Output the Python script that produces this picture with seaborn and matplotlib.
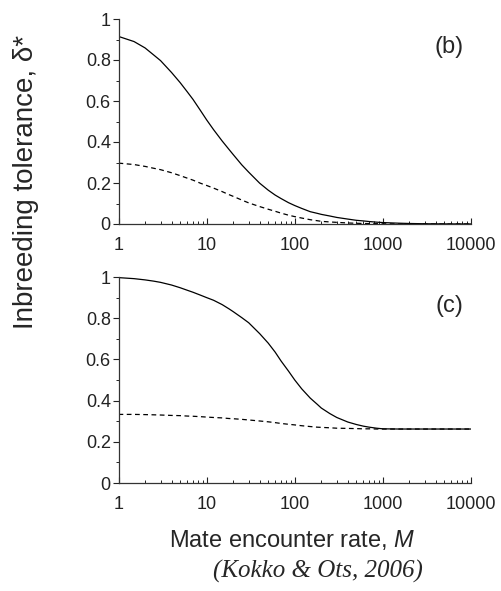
import numpy as np
import pandas as pd
import matplotlib
matplotlib.use("Agg")
import matplotlib.pyplot as plt
from matplotlib.ticker import FixedLocator, NullFormatter, LogLocator
import seaborn as sns

#%% DATA
M = [1, 1.5, 2, 2.5, 3, 4, 5, 6, 7, 8.5, 10, 12, 15, 18, 20, 25, 30, 40, 50,
     60, 70, 85, 100, 120, 150, 180, 200, 250, 300, 400, 500, 600, 700, 850,
     1000, 1500, 2000, 3000, 5000, 10000]

# panel (b)
b_solid = [0.915, 0.89, 0.859, 0.825, 0.797, 0.739, 0.69, 0.646, 0.608, 0.554,
           0.508, 0.46, 0.405, 0.363, 0.339, 0.289, 0.253, 0.199, 0.165,
           0.141, 0.124, 0.104, 0.09, 0.076, 0.06, 0.052, 0.047, 0.039, 0.032,
           0.024, 0.018, 0.015, 0.012, 0.009, 0.007, 0.004, 0.0025, 0.0012,
           0.0005, 0.0002]
b_dashed = [0.297, 0.29, 0.281, 0.272, 0.265, 0.25, 0.236, 0.224, 0.214, 0.199,
            0.188, 0.175, 0.158, 0.143, 0.135, 0.117, 0.103, 0.085, 0.072,
            0.062, 0.053, 0.043, 0.036, 0.029, 0.021, 0.016, 0.013, 0.01,
            0.008, 0.005, 0.0035, 0.0025, 0.002, 0.0015, 0.001, 0.0005,
            0.0003, 0.0001, 0.0, 0.0]

# panel (c)
c_solid = [0.997, 0.992, 0.986, 0.98, 0.974, 0.961, 0.948, 0.936, 0.926, 0.912,
           0.90, 0.887, 0.866, 0.845, 0.832, 0.803, 0.778, 0.725, 0.679,
           0.635, 0.592, 0.543, 0.50, 0.457, 0.412, 0.382, 0.364, 0.337, 0.318,
           0.296, 0.284, 0.276, 0.271, 0.266, 0.263, 0.262, 0.262, 0.262,
           0.262, 0.262]
c_dashed = [0.333, 0.333, 0.332, 0.331, 0.330, 0.328, 0.327, 0.325, 0.324,
            0.322, 0.32, 0.318, 0.316, 0.313, 0.312, 0.309, 0.306, 0.301,
            0.297, 0.293, 0.289, 0.285, 0.282, 0.278, 0.274, 0.271, 0.27,
            0.268, 0.266, 0.265, 0.264, 0.263, 0.263, 0.262, 0.262, 0.262,
            0.262, 0.262, 0.262, 0.262]

panel_labels = ["(b)", "(c)"]
xtick_vals = [1, 10, 100, 1000, 10000]
xtick_labels = ["1", "10", "100", "1000", "10000"]
ytick_vals = [0, 0.2, 0.4, 0.6, 0.8, 1]
ytick_labels = ["0", "0.2", "0.4", "0.6", "0.8", "1"]

#%% STYLE
sns.set_style("ticks")
plt.rcParams['font.family'] = ['Liberation Sans', 'DejaVu Sans']
plt.rcParams['mathtext.fontset'] = 'custom'
plt.rcParams['mathtext.rm'] = 'Liberation Sans'
plt.rcParams['mathtext.it'] = 'Liberation Sans:italic'

W, H = 501, 591
fig = plt.figure(figsize=(W / 100, H / 100), dpi=100)

def frac_box(x0, x1, ytop, ybot):
    # pixel box -> figure fraction [left, bottom, width, height]
    return [x0 / W, 1 - ybot / H, (x1 - x0) / W, (ybot - ytop) / H]

ax_b = fig.add_axes(frac_box(118.5, 471, 19, 224))
ax_c = fig.add_axes(frac_box(118.5, 471, 277, 483))

panels = [(ax_b, b_solid, b_dashed), (ax_c, c_solid, c_dashed)]

for ax, solid, dashed in panels:
    df = pd.DataFrame({"M": M, "solid": solid, "dashed": dashed})
    sns.lineplot(data=df, x="M", y="solid", ax=ax, color="black", lw=0.9)
    sns.lineplot(data=df, x="M", y="dashed", ax=ax, color="black", lw=0.9,
                 linestyle=(0, (3.8, 2.8)))
    ax.set_xscale("log")
    ax.set_xlim(1, 10000)
    ax.set_ylim(0, 1)
    ax.set_xlabel("")
    ax.set_ylabel("")

    ax.set_xticks(xtick_vals)
    ax.set_xticklabels(xtick_labels)
    ax.xaxis.set_minor_locator(LogLocator(base=10, subs=np.arange(2, 10)))
    ax.xaxis.set_minor_formatter(NullFormatter())
    ax.set_yticks(ytick_vals)
    ax.set_yticklabels(ytick_labels)
    ax.yaxis.set_minor_locator(FixedLocator([0.1, 0.3, 0.5, 0.7, 0.9]))

    ax.tick_params(axis="x", which="major", direction="in", length=4, width=0.8,
                   pad=9.5, labelsize=13, colors="#222222")
    ax.tick_params(axis="x", which="minor", direction="in", length=2.2, width=0.7,
                   colors="#222222")
    ax.tick_params(axis="y", which="major", direction="out", length=4, width=0.8,
                   pad=1.5, labelsize=13, colors="#222222")
    ax.tick_params(axis="y", which="minor", direction="out", length=2.5, width=0.7,
                   colors="#222222")
    for s in ["left", "bottom"]:
        ax.spines[s].set_linewidth(0.9)
        ax.spines[s].set_color("#333333")
    sns.despine(ax=ax)

# panel tags
fig.text(449 / W, 1 - 47 / H, panel_labels[0], ha="center", va="center", fontsize=17)
fig.text(449 / W, 1 - 306 / H, panel_labels[1], ha="center", va="center", fontsize=17)

# axis titles
fig.text(26 / W, 1 - 182 / H, "Inbreeding tolerance, δ*", rotation=90,
         ha="center", va="center", fontsize=20)
fig.text(292.5 / W, 1 - 540 / H, "Mate encounter rate, $M$", ha="center",
         va="center", fontsize=17)

# citation
fig.text(317.5 / W, 1 - 571 / H, "(Kokko & Ots, 2006)", ha="center", va="center",
         fontsize=18, family="Liberation Serif", style="italic")

fig.savefig("out.png", dpi=100, facecolor="white")
